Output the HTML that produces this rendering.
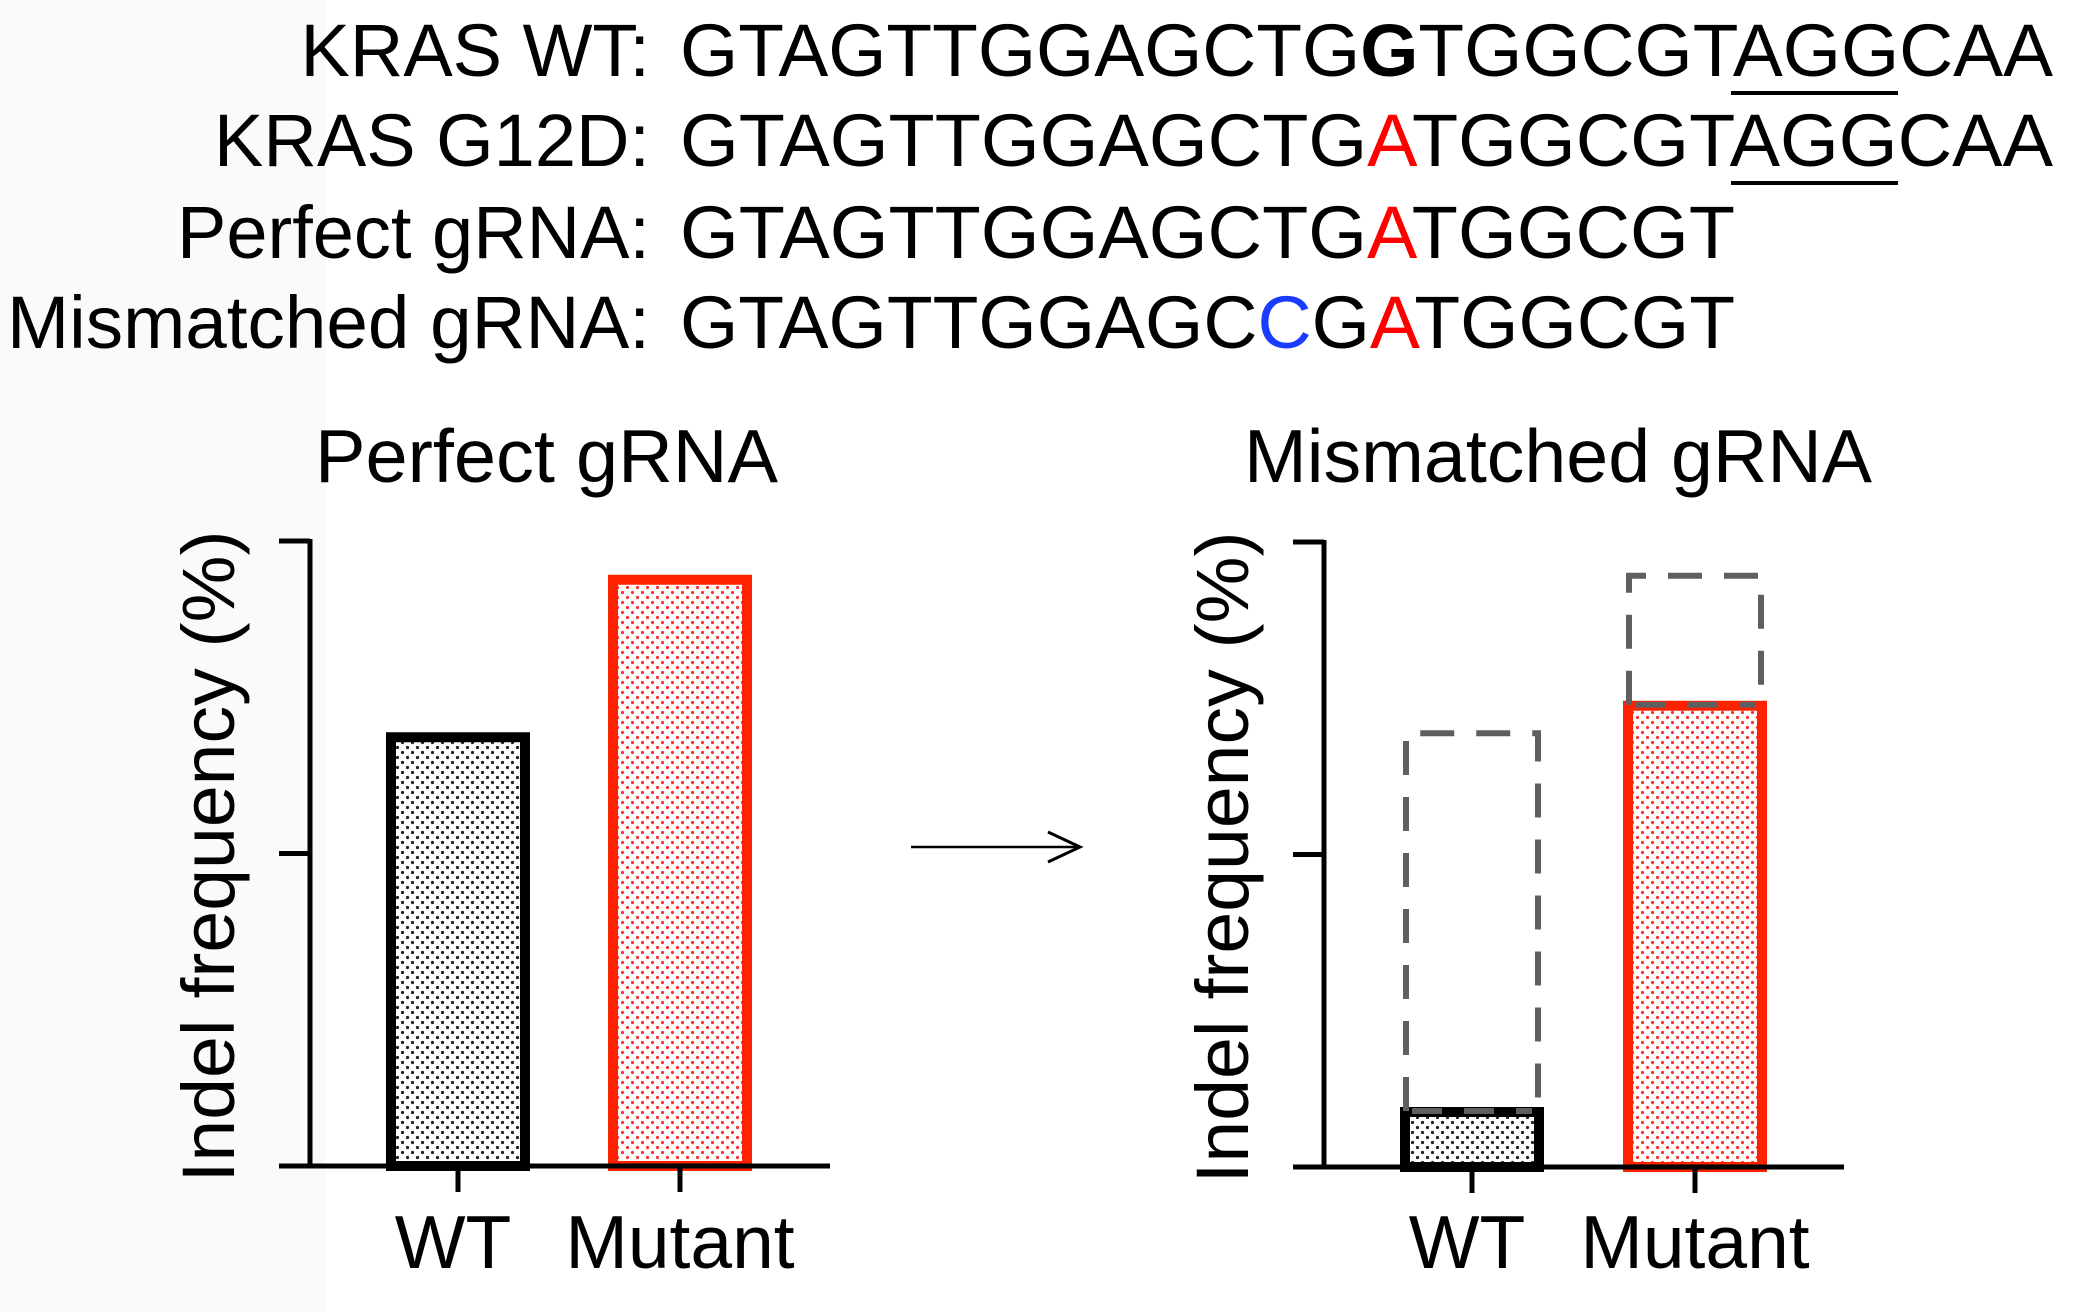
<!DOCTYPE html>
<html><head><meta charset="utf-8"><style>
html,body{margin:0;padding:0;background:#fff}
svg{display:block;font-family:"Liberation Sans",Arial,sans-serif}
</style></head><body>
<svg id="fig" width="2091" height="1312" viewBox="0 0 2091 1312">
<defs>
<pattern id="dotsK" width="10" height="10" patternUnits="userSpaceOnUse"><rect width="10" height="10" fill="#fff"/><circle cx="2.5" cy="2.5" r="1.6" fill="#222"/><circle cx="7.5" cy="7.5" r="1.6" fill="#222"/></pattern>
<pattern id="dotsR" width="10" height="10" patternUnits="userSpaceOnUse"><rect width="10" height="10" fill="#fff"/><circle cx="2.5" cy="2.5" r="1.6" fill="#f33"/><circle cx="7.5" cy="7.5" r="1.6" fill="#f33"/></pattern>
</defs>
<rect x="0" y="0" width="325" height="1312" fill="#fafafa"/>
<g font-size="74" fill="#000">
<text x="650" y="76" text-anchor="end">KRAS WT:</text>
<text x="680" y="76" textLength="1373" lengthAdjust="spacingAndGlyphs">GTAGTTGGAGCTG<tspan font-weight="bold">G</tspan>TGGCGTAGGCAA</text>
<line x1="1731" y1="93" x2="1898" y2="93" stroke="#000" stroke-width="4"/>
<text x="650" y="166" text-anchor="end">KRAS G12D:</text>
<text x="680" y="166" textLength="1373" lengthAdjust="spacingAndGlyphs">GTAGTTGGAGCTG<tspan fill="#f00">A</tspan>TGGCGTAGGCAA</text>
<line x1="1731" y1="183" x2="1898" y2="183" stroke="#000" stroke-width="4"/>
<text x="650" y="258" text-anchor="end">Perfect gRNA:</text>
<text x="680" y="258" textLength="1055" lengthAdjust="spacingAndGlyphs">GTAGTTGGAGCTG<tspan fill="#f00">A</tspan>TGGCGT</text>
<text x="650" y="348" text-anchor="end" textLength="643" lengthAdjust="spacingAndGlyphs">Mismatched gRNA:</text>
<text x="680" y="348" textLength="1055" lengthAdjust="spacingAndGlyphs">GTAGTTGGAGC<tspan fill="#1a3cff">C</tspan>G<tspan fill="#f00">A</tspan>TGGCGT</text>
</g>
<g>
<line x1="925" y1="847" x2="1093" y2="847" stroke="#000" stroke-width="2.5" transform="translate(-14,0)"/>
<polyline points="1048,832 1080,847 1048,862" fill="none" stroke="#000" stroke-width="3"/>
</g>
<g id="charts"></g>
</svg>
<script>
const categories = ["WT", "Mutant"];
const perfectValues = [69.4, 94.6];
const mismatchedValues = [9.6, 74.6];
const mismatchedRefValues = [69.4, 94.6];
const yTicks = [0, 50, 100];
const chartTitles = ["Perfect gRNA", "Mismatched gRNA"];
const yAxisTitle = "Indel frequency (%)";

const NS = "http://www.w3.org/2000/svg";
const root = document.getElementById("charts");
function mk(tag, attrs, parent){ const e=document.createElementNS(NS,tag); for(const k in attrs) e.setAttribute(k,attrs[k]); (parent||root).appendChild(e); return e; }

function drawChart(cfg){
  const g = mk("g", {});
  
  
  const y = v => cfg.y0 - (v/100)*(cfg.y0 - cfg.y100);
  const x = i => cfg.firstCenter + i*cfg.step;
  const t = mk("text", {x: cfg.titleX, y: 482, "font-size":75, textLength: cfg.titleLen, lengthAdjust:"spacingAndGlyphs"}, g);
  t.textContent = cfg.title;
  
  
  const yt = mk("text", {x:0, y:0, "text-anchor":"middle", "font-size":74, textLength:652, lengthAdjust:"spacingAndGlyphs", transform:`translate(${cfg.axisX-76},${(cfg.y0+cfg.y100)/2+3}) rotate(-90)`}, g);
  yt.textContent = yAxisTitle;
  
  
  categories.forEach((c,i)=>{
    const cx = x(i), v = cfg.values[i];
    const r = mk("rect", {x: cx-67, y: y(v)+5, width:134, height: Math.max(0, cfg.y0-y(v)-5), fill: i===0?"url(#dotsK)":"url(#dotsR)", stroke: i===0?"#000":"#ff2200", "stroke-width":10}, g);
    
    
  });
  if (cfg.refValues) {
    categories.forEach((c,i)=>{
      const cx = x(i), v = cfg.refValues[i], vb = cfg.values[i];
      const d = `M${cx-66},${y(vb)+4} L${cx-66},${y(v)} L${cx+66},${y(v)} L${cx+66},${y(vb)+4}`;
      const p = mk("path", {d, fill:"none", stroke:"#5f5f5f", "stroke-width":6, "stroke-dasharray":"34,22"}, g);
      
      
      const l = mk("line", {x1:cx-60, x2:cx+60, y1:y(vb)+4, y2:y(vb)+4, stroke:"#5f5f5f", "stroke-width":6, "stroke-dasharray":"30,22"}, g);
      
      
    });
  }
  const ya = mk("line", {x1:cfg.axisX, x2:cfg.axisX, y1:y(100)-2, y2:cfg.y0, stroke:"#000", "stroke-width":5}, g);
  
  
  yTicks.forEach(tv=>{
    const tk = mk("line", {x1:cfg.axisX-31, x2:cfg.axisX, y1:y(tv), y2:y(tv), stroke:"#000", "stroke-width":5}, g);
    
    
  });
  const xa = mk("line", {x1:cfg.axisX-31, x2:cfg.axisEnd, y1:cfg.y0, y2:cfg.y0, stroke:"#000", "stroke-width":5}, g);
  
  
  categories.forEach((c,i)=>{
    const tk = mk("line", {x1:x(i), x2:x(i), y1:cfg.y0, y2:cfg.y0+26, stroke:"#000", "stroke-width":5}, g);
    
    
    const lb = mk("text", {x:x(i)-(i===0?5:0), y:1268, "text-anchor":"middle", "font-size":75}, g);
    lb.textContent = c;
    
    
  });
}
drawChart({name:"perfect-grna-chart", title:chartTitles[0], titleX:315, titleLen:463, axisX:310, axisEnd:830, y0:1166, y100:541, firstCenter:458, step:222, values:perfectValues});
drawChart({name:"mismatched-grna-chart", title:chartTitles[1], titleX:1244, titleLen:628, axisX:1324, axisEnd:1844, y0:1167, y100:542, firstCenter:1472, step:223, values:mismatchedValues, refValues:mismatchedRefValues});
</script>
</body></html>
